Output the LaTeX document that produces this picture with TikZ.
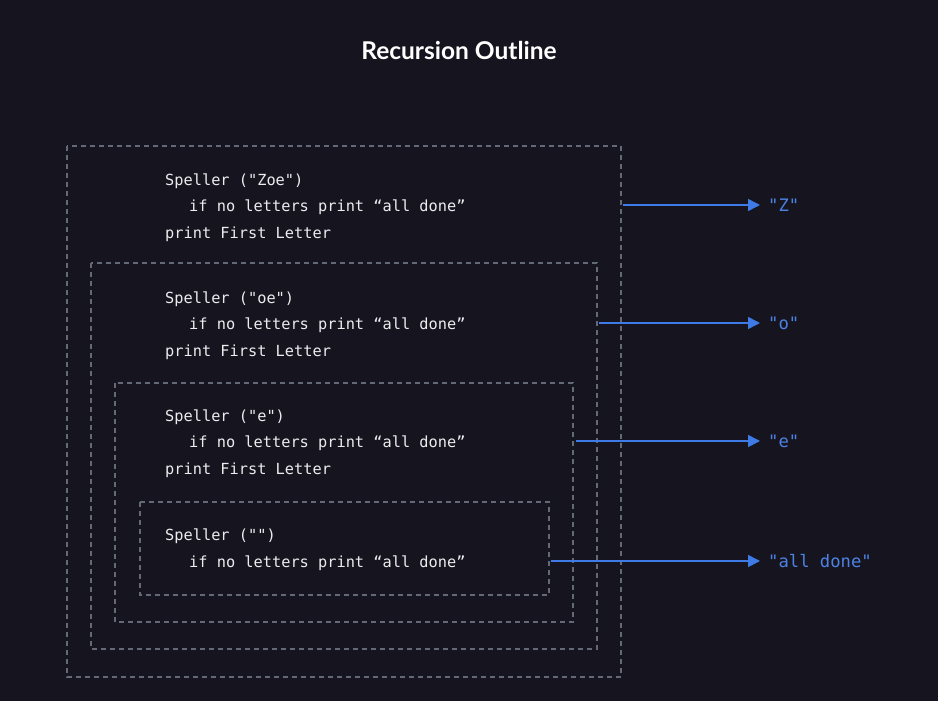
\documentclass[tikz,border=0pt]{standalone}
\usepackage{fontspec}
\setmainfont{Lato}
\setmonofont{DejaVu Sans Mono}
\usetikzlibrary{arrows.meta}
\definecolor{bg}{HTML}{16151F}
\definecolor{boxgray}{HTML}{646978}
\definecolor{txt}{HTML}{ECECEF}
\definecolor{arrblue}{HTML}{3F7BE6}
\definecolor{lblblue}{HTML}{4C82E3}
\tikzset{
  x=1pt, y=-1pt,
  framebox/.style={draw=boxgray, line width=1.1pt, dash pattern=on 5pt off 4pt},
  code/.style={anchor=base west, inner sep=0pt, text=txt, font=\ttfamily\fontsize{15.3}{18}\selectfont},
  outlbl/.style={anchor=west, inner sep=0pt, text=lblblue, font=\ttfamily\fontsize{17.2}{20}\selectfont},
  flow/.style={draw=arrblue, line width=1.6pt, shorten >=8pt, -{Triangle[length=12pt,width=12pt]}},
}
\begin{document}
\begin{tikzpicture}
\fill[bg] (0,0) rectangle (938,701);
\useasboundingbox (0,0) rectangle (938,701);
\node[inner sep=0pt, text=white, font=\bfseries\fontsize{24.5}{28}\selectfont] (title) at (459,50) {Recursion Outline};
% boxes
\draw[framebox] (67,146) rectangle (621,677);
\draw[framebox] (91,263) rectangle (597,649);
\draw[framebox] (115,383) rectangle (573,622);
\draw[framebox] (140,502) rectangle (549,595);
% text box 1
\node[code] (a1) at (165,185) {Speller ("Zoe")};
\node[code] (a2) at (189,211) {if no letters print “all done”};
\node[code] (a3) at (165,238) {print First Letter};
% text box 2
\node[code] (b1) at (165,303) {Speller ("oe")};
\node[code] (b2) at (189,329) {if no letters print “all done”};
\node[code] (b3) at (165,356) {print First Letter};
% text box 3
\node[code] (c1) at (165,421) {Speller ("e")};
\node[code] (c2) at (189,447) {if no letters print “all done”};
\node[code] (c3) at (165,474) {print First Letter};
% text box 4
\node[code] (d1) at (165,540) {Speller ("")};
\node[code] (d2) at (189,567) {if no letters print “all done”};
% start points
\coordinate (s1) at (623,205);
\coordinate (s2) at (599,323);
\coordinate (s3) at (576,441);
\coordinate (s4) at (551,561);
% labels
\node[outlbl] (o1) at (768,205) {"Z"};
\node[outlbl] (o2) at (768,323) {"o"};
\node[outlbl] (o3) at (768,441) {"e"};
\node[outlbl] (o4) at (768,561) {"all done"};
\draw[flow] (s1) -- (o1.west);
\draw[flow] (s2) -- (o2.west);
\draw[flow] (s3) -- (o3.west);
\draw[flow] (s4) -- (o4.west);
\end{tikzpicture}
\end{document}
